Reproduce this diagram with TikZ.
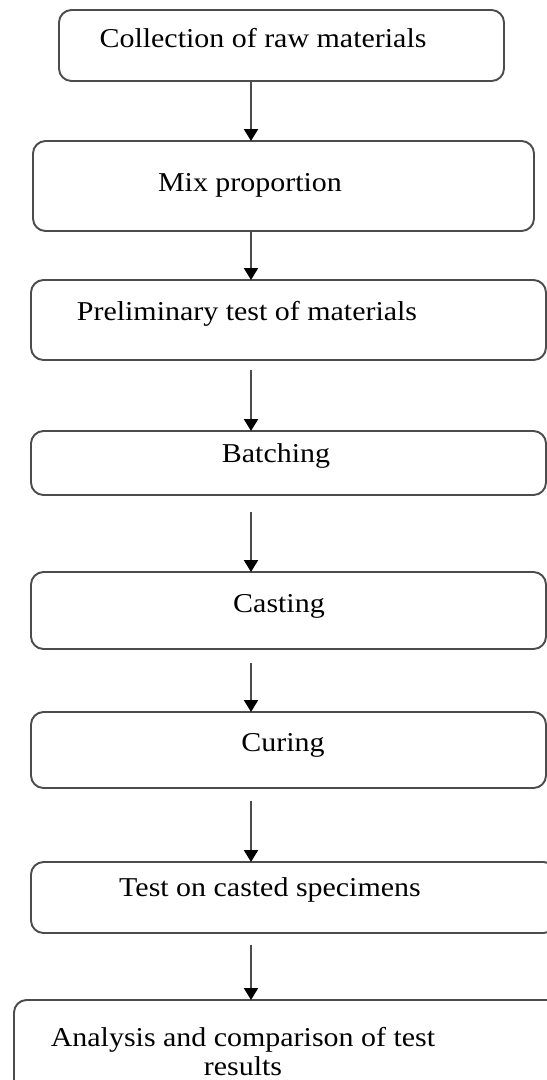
\documentclass[tikz,border=0pt]{standalone}
\usepackage{fontspec}
\setmainfont{Liberation Serif}[FakeStretch=1.1]
\usetikzlibrary{arrows.meta}

\tikzset{
    stage/.style={draw=black!70, line width=1.1pt, rounded corners=0.25cm,
        outer sep=0pt, inner sep=0pt},
    flow/.style={draw=black!70, line width=1.2pt,
        -{Triangle[length=0.24cm,width=0.28cm,black]}},
    every label/.style={font=\fontsize{15.5}{16.5}\selectfont, inner sep=0pt, align=center}
}

\begin{document}
\begin{tikzpicture}[x=0.02cm,y=-0.02cm]
    \clip (0,0) rectangle (547,1080);
    \fill[white] (0,0) rectangle (547,1080);
    \coordinate (ax) at (251,0);
    \node[stage, minimum width=445*0.02cm, minimum height=71*0.02cm,
        label={[shift={(-18.5,-7.5)}]center:Collection of raw materials}]
        (b1) at (281.5,45.5) {};
    \node[stage, minimum width=501*0.02cm, minimum height=90*0.02cm,
        label={[shift={(-33.5,-1)}]center:Mix proportion}]
        (b2) at (283.5,186) {};
    \node[stage, minimum width=515*0.02cm, minimum height=80*0.02cm,
        label={[shift={(-41.5,-6)}]center:Preliminary test of materials}]
        (b3) at (288.5,320) {};
    \node[stage, minimum width=515*0.02cm, minimum height=64*0.02cm,
        label={[shift={(-12.5,-7)}]center:Batching}]
        (b4) at (288.5,463) {};
    \node[stage, minimum width=515*0.02cm, minimum height=77*0.02cm,
        label={[shift={(-9.5,-4.5)}]center:Casting}]
        (b5) at (288.5,610.5) {};
    \node[stage, minimum width=515*0.02cm, minimum height=76*0.02cm,
        label={[shift={(-5.5,-5)}]center:Curing}]
        (b6) at (288.5,750) {};
    \node[stage, minimum width=525*0.02cm, minimum height=71*0.02cm,
        label={[shift={(-23.5,-7.5)}]center:Test on casted specimens}]
        (b7) at (293.5,897.5) {};
    \node[stage, minimum width=546*0.02cm, minimum height=95*0.02cm,
        label={[shift={(-44,4)}]center:Analysis and comparison of test\\results}]
        (b8) at (287,1047.5) {};
    % arrows between the stages
    \foreach \a/\b/\g in {b1/b2/0cm, b2/b3/0cm, b3/b4/0.2cm, b4/b5/0.34cm,
                          b5/b6/0.28cm, b6/b7/0.26cm, b7/b8/0.24cm}
        \draw[flow, shorten <=\g] (\a.south -| ax) -- (\b.north -| ax);
\end{tikzpicture}
\end{document}
